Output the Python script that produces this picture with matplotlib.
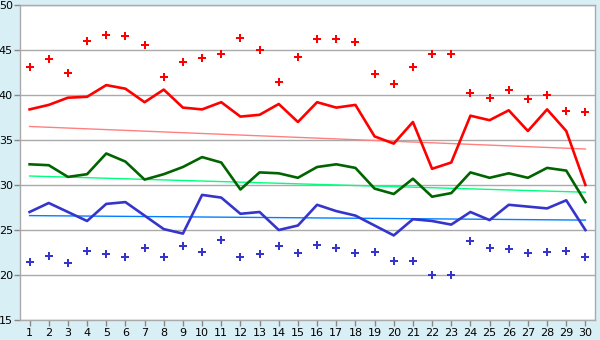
import matplotlib
matplotlib.use("Agg")
import matplotlib.pyplot as plt
import numpy as np

days = list(range(1, 31))
red_line = [38.4, 38.9, 39.7, 39.8, 41.1, 40.7, 39.2, 40.6, 38.6, 38.4,
            39.2, 37.6, 37.8, 39.0, 37.0, 39.2, 38.6, 38.9, 35.4, 34.6,
            37.0, 31.8, 32.5, 37.7, 37.2, 38.3, 36.0, 38.4, 36.0, 30.0]
red_dots = [43.1, 44.0, 42.4, 46.0, 46.7, 46.6, 45.6, 42.0, 43.7, 44.1,
            44.6, 46.3, 45.0, 41.5, 44.2, 46.2, 46.2, 45.9, 42.3, 41.2,
            43.1, 44.6, 44.6, 40.2, 39.7, 40.6, 39.6, 40.0, 38.2, 38.1]
green_line = [32.3, 32.2, 30.9, 31.2, 33.5, 32.6, 30.6, 31.2, 32.0, 33.1,
              32.5, 29.5, 31.4, 31.3, 30.8, 32.0, 32.3, 31.9, 29.6, 29.0,
              30.7, 28.7, 29.1, 31.4, 30.8, 31.3, 30.8, 31.9, 31.6, 28.1]
blue_line = [27.0, 28.0, 27.0, 26.0, 27.9, 28.1, 26.6, 25.1, 24.6, 28.9,
             28.6, 26.8, 27.0, 25.0, 25.5, 27.8, 27.1, 26.6, 25.5, 24.4,
             26.2, 26.0, 25.6, 27.0, 26.1, 27.8, 27.6, 27.4, 28.3, 25.0]
blue_dots = [21.5, 22.1, 21.3, 22.7, 22.3, 22.0, 23.0, 22.0, 23.2, 22.6,
             23.9, 22.0, 22.3, 23.2, 22.4, 23.3, 23.0, 22.4, 22.6, 21.6,
             21.6, 20.0, 20.0, 23.8, 23.0, 22.9, 22.5, 22.6, 22.7, 22.0]
trend_days = [1, 30]
red_trend = [36.5, 34.0]
green_trend = [31.0, 29.2]
blue_trend = [26.6, 26.1]
yticks = [15, 20, 25, 30, 35, 40, 45, 50]

bg = "#D9EFF6"
fig = plt.figure(figsize=(6.0, 3.4), dpi=100, facecolor=bg)
ax = fig.add_axes([20/600, 1-320/340, 575/600, 315/340])
ax.set_facecolor("white")

ax.plot(trend_days, red_trend, color="#FF8080", lw=1.0)
ax.plot(trend_days, green_trend, color="#00FF80", lw=1.0)
ax.plot(trend_days, blue_trend, color="#0080FF", lw=1.0)

ax.plot(days, red_line, color="#FF0000", lw=1.9)
ax.plot(days, green_line, color="#006400", lw=1.9)
ax.plot(days, blue_line, color="#3535CC", lw=1.9)
ax.plot(days, red_dots, ls="none", marker="P", ms=5.5, color="#FF0000", mew=0)
ax.plot(days, blue_dots, ls="none", marker="P", ms=5.5, color="#3535CC", mew=0)

ax.set_xlim(0.5, 30.5)
ax.set_ylim(15, 50)
ax.set_xticks(days)
ax.set_xticklabels([str(d) for d in days])
ax.set_yticks(yticks)
ax.set_yticklabels([str(v) for v in yticks])
ax.yaxis.grid(True, color="#AAAAAA", lw=1.0)
ax.set_axisbelow(True)
for s in ax.spines.values():
    s.set_color("#AAAAAA")
    s.set_linewidth(1.0)
ax.tick_params(axis="both", colors="#888888", labelcolor="black", labelsize=8,
               length=4, width=1, pad=2)
ax.tick_params(axis="y", pad=1)

fig.savefig("out.png", dpi=100, facecolor=bg)
